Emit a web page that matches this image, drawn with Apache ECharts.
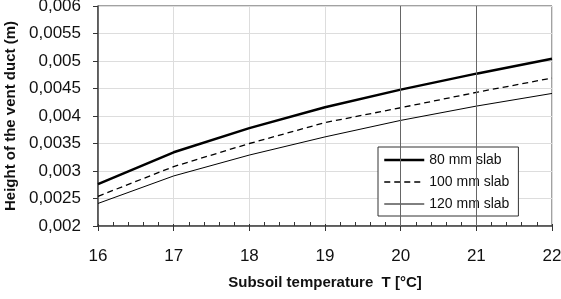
<!DOCTYPE html>
<html>
<head>
<meta charset="utf-8">
<script src="https://cdn.jsdelivr.net/npm/echarts@6/dist/echarts.min.js"></script>
<style>
	html, body { margin: 0; padding: 0; background: #fff; }
	#main { width: 561px; height: 299px; }
</style>
</head>
<body>
<div id="main"></div>
<script>
// subsoil temperature (°C)
const temps = [16, 17, 18, 19, 20, 21, 22];
// height of the vent duct (m)
const slab80 = [0.00276, 0.00334, 0.00378, 0.00416, 0.00448, 0.00477, 0.00504];
const slab100 = [0.00254, 0.00308, 0.00350, 0.00388, 0.00415, 0.00443, 0.00469];
const slab120 = [0.00241, 0.00291, 0.00329, 0.00362, 0.00392, 0.00418, 0.00441];
const seriesNames = ["80 mm slab", "100 mm slab", "120 mm slab"];
// darker reference grid lines
const darkX = [20, 21];
const darkY = [0.0025, 0.003];

const font = "Liberation Sans, Arial, sans-serif";
const lineWidths = [2.5, 1.3, 1];
const lineTypes = ["solid", [6, 4], "solid"];

function pairs(vals) {
	return temps.map((t, i) => [t, vals[i]]);
}

var chartDom = document.getElementById("main");
var chart = echarts.init(chartDom);
var option;

option = {
	animation: false,
	grid: {
		left: 98,
		right: 9,
		top: 6,
		bottom: 73,
		outerBoundsMode: "none",
		show: true,
		borderColor: "#444",
		borderWidth: 1,
	},
	legend: {
		orient: "vertical",
		left: 378,
		top: 147,
		width: 130,
		padding: [6, 9, 5, 5],
		itemWidth: 40,
		itemHeight: 14,
		itemGap: 8,
		backgroundColor: "#fff",
		borderColor: "#333",
		borderWidth: 1,
		itemStyle: { opacity: 0 },
		data: seriesNames.map((n, i) => ({
			name: n,
			lineStyle: { width: lineWidths[i], type: lineTypes[i], color: "#000" },
		})),
		textStyle: { fontFamily: font, fontSize: 14, color: "#111" },
	},
	xAxis: [
		{
			type: "value",
			min: 16,
			max: 22,
			interval: 1,
			name: "Subsoil temperature  T [°C]",
			nameLocation: "middle",
			nameGap: 49,
			nameTextStyle: { fontFamily: font, fontSize: 15, fontWeight: "bold", color: "#111" },
			axisLine: { lineStyle: { color: "#444", width: 1.5 } },
			axisTick: { show: true, inside: true, length: 2, lineStyle: { color: "#333" } },
			minorTick: { show: true, splitNumber: 5, length: 4, lineStyle: { color: "#333" } },
			axisLabel: { fontFamily: font, fontSize: 17, color: "#111", margin: 22 },
			splitLine: { show: true, lineStyle: { color: "#ddd" } },
		},
		{
			// outward part of the major ticks
			type: "value",
			position: "bottom",
			min: 16,
			max: 22,
			interval: 1,
			axisLine: { show: false },
			axisTick: { show: true, length: 5, lineStyle: { color: "#333" } },
			axisLabel: { show: false },
			splitLine: { show: false },
		},
	],
	yAxis: {
		type: "value",
		min: 0.002,
		max: 0.006,
		interval: 0.0005,
		name: "Height of the vent duct (m)",
		nameLocation: "middle",
		nameGap: 80,
		nameTextStyle: { fontFamily: font, fontSize: 15, fontWeight: "bold", color: "#111" },
		axisLine: { show: true, lineStyle: { color: "#444", width: 1.5 } },
		axisTick: { show: true, length: 5, lineStyle: { color: "#333" } },
		axisLabel: {
			fontFamily: font,
			fontSize: 17,
			color: "#111",
			margin: 17,
			formatter: (v) => String(+v.toFixed(4)).replace(".", ","),
		},
		splitLine: { show: true, lineStyle: { color: "#ddd" } },
	},
	series: [
		{
			name: seriesNames[0],
			type: "line",
			data: pairs(slab80),
			symbol: "none",
			lineStyle: { color: "#000", width: lineWidths[0] },
			itemStyle: { color: "#000" },
			z: 3,
			markLine: {
				silent: true,
				symbol: "none",
				label: { show: false },
				lineStyle: { color: "#666", width: 1, type: "solid" },
				data: darkX.map((x) => ({ xAxis: x })).concat(darkY.map((y) => ({ yAxis: y }))),
			},
		},
		{
			name: seriesNames[1],
			type: "line",
			data: pairs(slab100),
			symbol: "none",
			lineStyle: { color: "#000", width: lineWidths[1], type: lineTypes[1] },
			itemStyle: { color: "#000" },
			z: 3,
		},
		{
			name: seriesNames[2],
			type: "line",
			data: pairs(slab120),
			symbol: "none",
			lineStyle: { color: "#000", width: lineWidths[2] },
			itemStyle: { color: "#000" },
			z: 3,
		},
	],
};

option && chart.setOption(option);
</script>
</body>
</html>
